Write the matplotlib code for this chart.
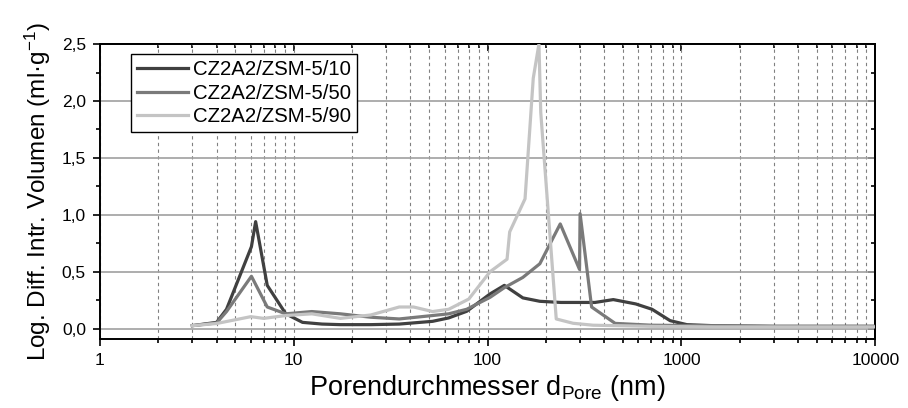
import matplotlib
matplotlib.use("Agg")
import matplotlib.pyplot as plt
from matplotlib.ticker import FixedLocator, FixedFormatter, MultipleLocator, FuncFormatter, LogLocator, NullFormatter

plt.rcParams['font.family'] = ['Liberation Sans', 'DejaVu Sans']
plt.rcParams['mathtext.default'] = 'regular'

labels = ["CZ2A2/ZSM-5/10", "CZ2A2/ZSM-5/50", "CZ2A2/ZSM-5/90"]
colors = ["#404040", "#7a7a7a", "#c4c4c4"]

d10 = [3, 4, 4.5, 6.05, 6.36, 7.3, 9.1, 11.1, 14, 17.4, 25, 35, 52, 63, 78, 103, 122, 152, 186, 239, 358, 445, 581, 705, 874, 1066, 1500, 3000, 6000, 10000]
v10 = [0.026, 0.055, 0.17, 0.72, 0.94, 0.38, 0.13, 0.055, 0.04, 0.035, 0.035, 0.04, 0.064, 0.094, 0.152, 0.305, 0.38, 0.27, 0.24, 0.23, 0.23, 0.255, 0.217, 0.17, 0.07, 0.035, 0.025, 0.02, 0.02, 0.02]

d50 = [3, 4, 4.5, 6.05, 7.3, 9.1, 12.4, 17.4, 25, 35, 52, 63, 78, 103, 122, 152, 186, 237, 298, 300, 344, 455, 700, 1500, 3000, 6000, 10000]
v50 = [0.026, 0.05, 0.15, 0.46, 0.19, 0.13, 0.15, 0.13, 0.1, 0.085, 0.115, 0.13, 0.17, 0.275, 0.36, 0.45, 0.57, 0.92, 0.52, 1.01, 0.19, 0.046, 0.03, 0.025, 0.02, 0.02, 0.02]

d90 = [3, 4, 6, 7, 9.1, 12.4, 17.4, 25, 35, 41.5, 52, 63, 80, 103, 126, 130, 156, 172, 184, 188, 226, 276, 350, 700, 1500, 3000, 6000, 10000]
v90 = [0.026, 0.045, 0.105, 0.09, 0.115, 0.13, 0.09, 0.12, 0.19, 0.19, 0.15, 0.17, 0.26, 0.5, 0.61, 0.85, 1.14, 2.2, 2.5, 1.9, 0.085, 0.047, 0.03, 0.02, 0.015, 0.015, 0.015, 0.015]

xticks = [1, 10, 100, 1000, 10000]
xticklabels = ["1", "10", "100", "1000", "10000"]

fig = plt.figure(figsize=(9.08, 4.08), dpi=100)
ax = fig.add_axes([0.110, 0.170, 0.854, 0.722])

for d, v, lab, c in zip([d10, d50, d90], [v10, v50, v90], labels, colors):
    ax.plot(d, v, color=c, lw=2.3, label=lab, zorder=3)

ax.set_xscale('log')
ax.set_xlim(1, 10000)
ax.set_ylim(-0.088, 2.5)
ax.xaxis.set_major_locator(FixedLocator(xticks))
ax.xaxis.set_major_formatter(FixedFormatter(xticklabels))
ax.xaxis.set_minor_locator(LogLocator(base=10, subs=range(2, 10)))
ax.xaxis.set_minor_formatter(NullFormatter())
ax.yaxis.set_major_locator(MultipleLocator(0.5))
ax.yaxis.set_minor_locator(MultipleLocator(0.25))
ax.yaxis.set_major_formatter(FuncFormatter(lambda v, p: f"{v:.1f}".replace('.', ',')))

ax.grid(True, axis='x', which='both', color='#808080', ls=(0, (3, 3)), lw=0.8)
ax.grid(True, axis='y', which='major', color='#a0a0a0', ls='-', lw=1.2)
ax.set_axisbelow(True)

ax.tick_params(axis='both', which='both', labelsize=12.5, width=1.2, direction='out',
               top=False, right=False)
ax.tick_params(axis='both', which='major', length=5, pad=5)
ax.tick_params(axis='both', which='minor', length=3)
for s in ax.spines.values():
    s.set_linewidth(1.4)

# top and right: ticks pointing inward, no labels
sx = ax.secondary_xaxis('top')
sx.xaxis.set_major_locator(FixedLocator(xticks))
sx.xaxis.set_minor_locator(LogLocator(base=10, subs=range(2, 10)))
sx.xaxis.set_minor_formatter(NullFormatter())
sx.tick_params(which='both', direction='in', labeltop=False, width=1.2)
sx.tick_params(which='major', length=5)
sx.tick_params(which='minor', length=3)
sx.spines['top'].set_linewidth(1.4)

sy = ax.secondary_yaxis('right')
sy.yaxis.set_major_locator(MultipleLocator(0.5))
sy.yaxis.set_minor_locator(MultipleLocator(0.25))
sy.tick_params(which='both', direction='in', labelright=False, width=1.2)
sy.tick_params(which='major', length=5)
sy.tick_params(which='minor', length=3)
sy.spines['right'].set_linewidth(1.4)

ax.set_xlabel("Porendurchmesser d$_{Pore}$ (nm)", fontsize=19.5, labelpad=4)
ax.set_ylabel("Log. Diff. Intr. Volumen (ml·g$^{-1}$)", fontsize=17.5, labelpad=6)

leg = ax.legend(loc='upper left', bbox_to_anchor=(0.040, 0.966), fontsize=14.7,
                frameon=True, fancybox=False, edgecolor='black', framealpha=1,
                handlelength=2.5, borderpad=0.3, labelspacing=0.22, handletextpad=0.25,
                borderaxespad=0)
leg.get_frame().set_linewidth(1.0)

fig.savefig("out.png", dpi=100)
